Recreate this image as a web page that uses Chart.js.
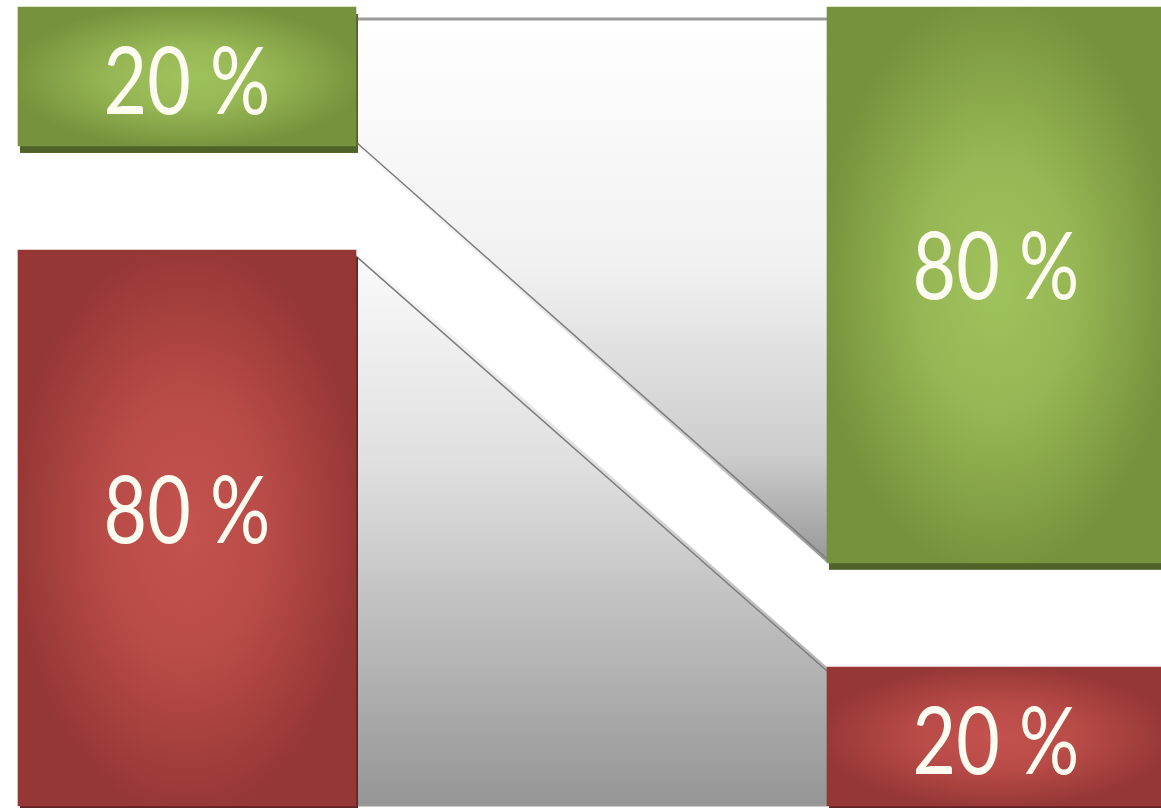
<!DOCTYPE html>
<html>
<head>
<meta charset="utf-8">
<script src="https://cdn.jsdelivr.net/npm/chart.js@4.4.0/dist/chart.umd.min.js"></script>
<style>
  html, body { margin: 0; padding: 0; background: #fff; }
  #wrap { width: 1161px; height: 808px; }
</style>
</head>
<body>
<div id="wrap"><canvas id="grafico"></canvas></div>
<script>
// dados do gráfico
const categorias = ["1", "2"];
const valoresVerde = [20, 80];
const valoresVermelho = [80, 20];
const sufixo = " %";

// espaço em branco entre os dois blocos de cada coluna (unidades do eixo)
const ESPACO = 15;

const corVerde = "#76923c", claroVerde = "#a0c25c", sombraVerde = "#4f6228";
const corVermelho = "#953735", claroVermelho = "#c4524e", sombraVermelho = "#632523";

function caixa(el) {
  return {
    left: el.x - el.width / 2,
    right: el.x + el.width / 2,
    top: Math.min(el.y, el.base),
    bottom: Math.max(el.y, el.base)
  };
}

// áreas cinzentas de ligação e sombras
const conectores = {
  id: "conectores",
  beforeDatasetsDraw(chart) {
    const ctx = chart.ctx;
    const verm = chart.getDatasetMeta(0).data.map(caixa);
    const verde = chart.getDatasetMeta(2).data.map(caixa);
    const gL = verde[0], gR = verde[1], rL = verm[0], rR = verm[1];
    const topo = gL.top + 12;

    ctx.save();
    // bloco de cima
    let grad = ctx.createLinearGradient(0, topo, 0, gR.bottom);
    grad.addColorStop(0, "#ffffff");
    grad.addColorStop(0.45, "#f1f1f1");
    grad.addColorStop(0.8, "#cdcdcd");
    grad.addColorStop(1, "#979797");
    ctx.fillStyle = grad;
    ctx.beginPath();
    ctx.moveTo(gL.right, topo);
    ctx.lineTo(gR.left, topo);
    ctx.lineTo(gR.left, gR.bottom);
    ctx.lineTo(gL.right, gL.bottom);
    ctx.closePath();
    ctx.fill();

    // bloco de baixo
    grad = ctx.createLinearGradient(0, rL.top, 0, rL.bottom);
    grad.addColorStop(0, "#fbfbfb");
    grad.addColorStop(0.4, "#dedede");
    grad.addColorStop(1, "#959595");
    ctx.fillStyle = grad;
    ctx.beginPath();
    ctx.moveTo(rL.right, rL.top);
    ctx.lineTo(rR.left, rR.top);
    ctx.lineTo(rR.left, rR.bottom);
    ctx.lineTo(rL.right, rL.bottom);
    ctx.closePath();
    ctx.fill();

    // linhas
    ctx.strokeStyle = "#9a9a9a";
    ctx.lineWidth = 3;
    ctx.beginPath();
    ctx.moveTo(gL.right, topo);
    ctx.lineTo(gR.left, topo);
    ctx.stroke();
    ctx.beginPath();
    ctx.moveTo(rL.right, rL.bottom - 1);
    ctx.lineTo(rR.left, rR.bottom - 1);
    ctx.stroke();
    ctx.strokeStyle = "#7d7d7d";
    ctx.lineWidth = 1.5;
    ctx.beginPath();
    ctx.moveTo(gL.right, gL.bottom - 4);
    ctx.lineTo(gR.left, gR.bottom - 4);
    ctx.moveTo(rL.right, rL.top + 6);
    ctx.lineTo(rR.left, rR.top + 4);
    ctx.stroke();

    // sombras
    verde.forEach(b => {
      ctx.fillStyle = sombraVerde;
      ctx.fillRect(b.left + 2, b.top + 7, b.right - b.left, b.bottom - b.top);
    });
    verm.forEach(b => {
      ctx.fillStyle = sombraVermelho;
      ctx.fillRect(b.left + 2, b.top + 7, b.right - b.left, b.bottom - b.top);
    });
    ctx.restore();
  },
  afterDatasetsDraw(chart) {
    const ctx = chart.ctx;
    const grupos = [
      { meta: chart.getDatasetMeta(0), claro: claroVermelho, valores: valoresVermelho },
      { meta: chart.getDatasetMeta(2), claro: claroVerde, valores: valoresVerde }
    ];
    grupos.forEach(g => {
      g.meta.data.forEach((el, i) => {
        const b = caixa(el);
        const w = b.right - b.left, h = b.bottom - b.top;
        const cx = (b.left + b.right) / 2, cy = (b.top + b.bottom) / 2;
        // brilho central
        ctx.save();
        ctx.beginPath();
        ctx.rect(b.left, b.top, w, h);
        ctx.clip();
        ctx.translate(cx, cy);
        ctx.scale(w / 2, h / 2);
        const rg = ctx.createRadialGradient(0, 0, 0, 0, 0, 1.05);
        rg.addColorStop(0, g.claro);
        rg.addColorStop(0.45, g.claro + "c0");
        rg.addColorStop(1, g.claro + "00");
        ctx.fillStyle = rg;
        ctx.fillRect(-1, -1, 2, 2);
        ctx.restore();

        // texto (um pouco acima do centro nos blocos altos)
        ctx.save();
        ctx.translate(cx, cy - 0.055 * h + 12 + 33);
        ctx.scale(0.8, 1);
        ctx.font = "94px Lato";
        ctx.textAlign = "center";
        ctx.textBaseline = "alphabetic";
        ctx.fillStyle = "#fdfcf0";
        ctx.fillText(g.valores[i] + sufixo, 0, 0);
        ctx.restore();
      });
    });
  }
};

const ctx = document.getElementById("grafico").getContext("2d");

new Chart(ctx, {
  type: "bar",
  data: {
    labels: categorias,
    datasets: [
      {
        label: "Vermelho",
        data: valoresVermelho,
        backgroundColor: corVermelho,
        clip: false
      },
      {
        label: "espaco",
        data: categorias.map(() => ESPACO),
        backgroundColor: "rgba(0,0,0,0)",
        clip: false
      },
      {
        label: "Verde",
        data: valoresVerde,
        backgroundColor: corVerde,
        clip: false
      }
    ]
  },
  options: {
    responsive: true,
    maintainAspectRatio: false,
    animation: false,
    barThickness: 338,
    layout: {
      padding: { left: 187, right: 165, top: 7, bottom: 2 }
    },
    scales: {
      x: {
        display: false,
        stacked: true,
        offset: false
      },
      y: {
        display: false,
        stacked: true,
        min: 0,
        max: 100 + ESPACO
      }
    },
    plugins: {
      legend: { display: false },
      tooltip: { enabled: false }
    }
  },
  plugins: [conectores]
});
</script>
</body>
</html>
